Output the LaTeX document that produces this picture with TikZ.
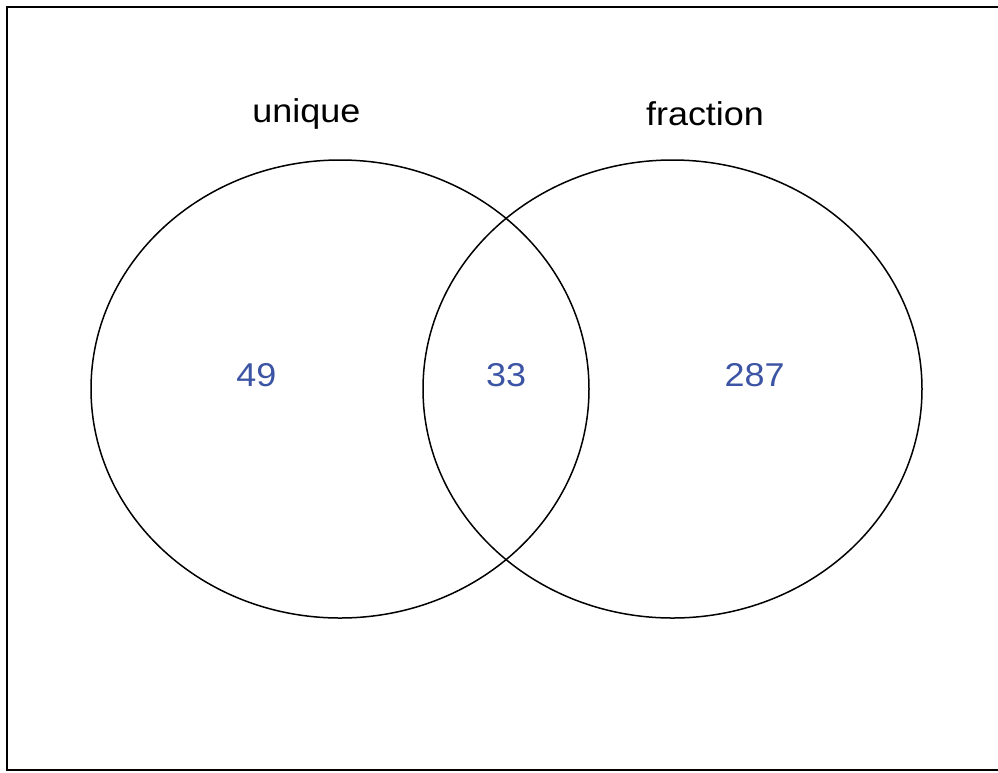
\documentclass[tikz,border=0pt]{standalone}
\usepackage{fontspec}
\setmainfont{Liberation Sans}
\usepackage{xcolor}
\usepackage{graphicx}
\definecolor{numblue}{RGB}{60,84,164}
\newcommand{\wide}[1]{\scalebox{1.09}[1]{#1}}
\begin{document}
\begin{tikzpicture}[
			x=1pt, y=-1pt,
			set/.style={draw=black, line width=1.5pt},
			setname/.style={font=\fontsize{33}{38}\selectfont, anchor=base},
			count/.style={font=\fontsize{33}{38}\selectfont, text=numblue, anchor=base}
			]
			\useasboundingbox (0,0) rectangle (998,772);
			\draw[line width=2pt] (7,7) rectangle (1002,770);
			\draw[set] (340,389) ellipse [x radius=249, y radius=229];
			\draw[set] (672.5,389) ellipse [x radius=249.5, y radius=229];
			\node[setname] (nameA) at (306.5,122) {\wide{unique}};
			\node[setname] (nameB) at (705,125.5) {\wide{fraction}};
			\node[count] (onlyA) at (256.5,386) {\wide{49}};
			\node[count] (both) at (506,386) {\wide{33}};
			\node[count] (onlyB) at (754.5,386) {\wide{287}};
		\end{tikzpicture}
\end{document}
